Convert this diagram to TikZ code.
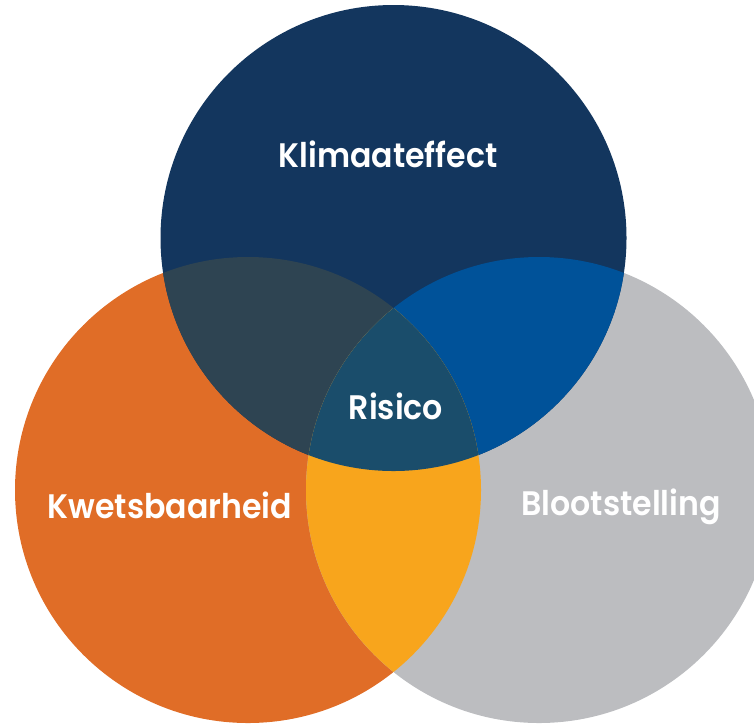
\documentclass[tikz,border=0pt]{standalone}
\usepackage{fontspec}
\setmainfont{Poppins}[BoldFont={Poppins SemiBold}]
\begin{document}
\begin{tikzpicture}[x=1pt,y=-1pt,
  ring/.style={circle,minimum size=466pt,inner sep=0pt,draw=none},
  lbl/.style={text=white,font=\fontsize{34}{38}\selectfont\bfseries,inner sep=0pt,xscale=0.93,transform shape}]
\definecolor{klimaC}{HTML}{13365E}
\definecolor{kwetsC}{HTML}{E06D27}
\definecolor{blootC}{HTML}{BCBDC0}
\definecolor{klkwC}{HTML}{2E4452}
\definecolor{klblC}{HTML}{005299}
\definecolor{kwblC}{HTML}{F8A51C}
\definecolor{risicoC}{HTML}{1A4D6B}
\useasboundingbox (0,0) rectangle (754,724);
\coordinate (cK) at (393.5,238);
\coordinate (cV) at (248,490);
\coordinate (cB) at (539,490);
% the three circles
\node[ring,fill=kwetsC] (kwets) at (cV) {};
\node[ring,fill=blootC] (bloot) at (cB) {};
\node[ring,fill=klimaC] (klima) at (cK) {};
% pairwise overlaps
\begin{scope}
  \clip (cK) circle (233);
  \fill[klkwC] (cV) circle (233);
\end{scope}
\begin{scope}
  \clip (cK) circle (233);
  \fill[klblC] (cB) circle (233);
\end{scope}
\begin{scope}
  \clip (cV) circle (233);
  \fill[kwblC] (cB) circle (233);
\end{scope}
% centre overlap
\begin{scope}
  \clip (cK) circle (233);
  \clip (cV) circle (233);
  \fill[risicoC] (cB) circle (233);
\end{scope}
% labels
\node[lbl] (tK) at (388,154) {Klimaateffect};
\node[lbl] (tR) at (396,406) {Risico};
\node[lbl] (tV) at (170,505) {Kwetsbaarheid};
\node[lbl] (tB) at (621,507) {Blootstelling};
\end{tikzpicture}
\end{document}
